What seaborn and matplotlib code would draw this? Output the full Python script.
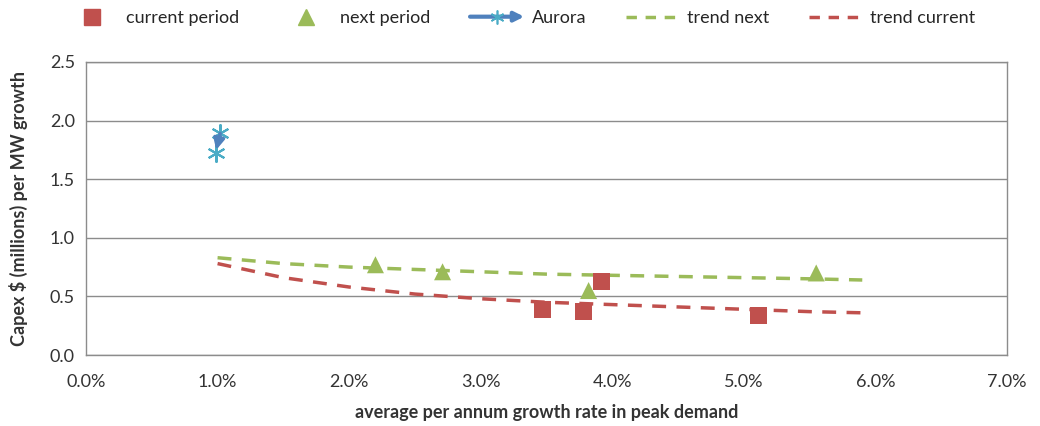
import seaborn as sns
import pandas as pd
import matplotlib.pyplot as plt
from matplotlib.lines import Line2D
from matplotlib.patches import FancyArrowPatch
from matplotlib.legend_handler import HandlerBase
import numpy as np

# data (x in % growth, y in $ millions per MW)
current_x = [3.47, 3.78, 3.92, 5.11]
current_y = [0.385, 0.37, 0.63, 0.34]
next_x = [2.20, 2.71, 3.82, 5.55]
next_y = [0.77, 0.71, 0.55, 0.70]
aurora_x = [1.02, 0.99]
aurora_y = [1.89, 1.72]
trend_x = [1.0, 1.5, 2.0, 2.5, 3.0, 3.5, 4.0, 4.5, 5.0, 5.5, 5.9]
trend_next = [0.83, 0.78, 0.75, 0.73, 0.71, 0.69, 0.68, 0.67, 0.66, 0.65, 0.64]
trend_current = [0.78, 0.66, 0.58, 0.52, 0.48, 0.45, 0.43, 0.41, 0.39, 0.37, 0.36]

red = '#C0504D'
green = '#9BBB59'
blue = '#4F81BD'
cyan = '#4BACC6'

sns.set_theme(style="white")
plt.rcParams['font.family'] = ['Lato', 'DejaVu Sans']

fig = plt.figure(figsize=(10.4, 4.26), dpi=100)
ax = fig.add_axes([86/1040, 1-355/426, (1007-86)/1040, (355-62)/426])

trends = pd.DataFrame({'x': trend_x, 'next': trend_next, 'current': trend_current})
sns.lineplot(data=trends, x='x', y='next', ax=ax, color=green, lw=2.5,
             linestyle=(0, (4, 3)), zorder=2)
sns.lineplot(data=trends, x='x', y='current', ax=ax, color=red, lw=2.5,
             linestyle=(0, (4, 3)), zorder=2)

sns.scatterplot(x=current_x, y=current_y, ax=ax, marker='s', s=150,
                color=red, edgecolor='none', zorder=3)
sns.scatterplot(x=next_x, y=next_y, ax=ax, marker='^', s=150,
                color=green, edgecolor='none', zorder=3)

# Aurora: arrow between the two points plus asterisk markers
ax.plot(aurora_x, aurora_y, ls='none', marker=(6, 2, 0), ms=13, mew=1.5,
        color=cyan, zorder=4)
ax.add_patch(FancyArrowPatch((aurora_x[0], aurora_y[0]), (aurora_x[1], aurora_y[1] + 0.03),
                             arrowstyle='-|>', color=blue, lw=2.5, mutation_scale=16,
                             shrinkA=0, shrinkB=0, zorder=5))


class ArrowHandler(HandlerBase):
    def create_artists(self, legend, orig, xd, yd, w, h, fontsize, trans):
        y = h / 2 - yd
        arr = FancyArrowPatch((-xd, y), (-xd + w, y), arrowstyle='-|>', color=blue,
                              lw=3, mutation_scale=14, shrinkA=0, shrinkB=0,
                              transform=trans)
        mk = Line2D([-xd + w / 2], [y], ls='none', marker=(6, 2, 0), ms=10,
                    mew=1.2, color=cyan, transform=trans)
        return [arr, mk]


ax.set_xlim(0, 7)
ax.set_ylim(0, 2.5)
ax.set_xticks(np.arange(0, 7.01, 1))
ax.set_xticklabels(['%.1f%%' % v for v in np.arange(0, 7.01, 1)])
ax.set_yticks(np.arange(0, 2.51, 0.5))
ax.set_yticklabels(['%.1f' % v for v in np.arange(0, 2.51, 0.5)])
ax.yaxis.grid(True, color='#8c8c8c', lw=1)
ax.set_axisbelow(True)
for s in ax.spines.values():
    s.set_color('#8c8c8c')
    s.set_linewidth(1)
ax.tick_params(axis='both', labelsize=13, colors='#333333', length=0, pad=8)
ax.tick_params(axis='x', pad=14)

ax.set_xlabel('average per annum growth rate in peak demand', fontsize=13,
              fontweight='bold', color='#333333', labelpad=10)
ax.set_ylabel('Capex $ (millions) per MW growth', fontsize=13,
              fontweight='bold', color='#333333', labelpad=16)

aurora_h = Line2D([], [], color=blue)
handles = [
    Line2D([], [], ls='none', marker='s', ms=11, color=red),
    Line2D([], [], ls='none', marker='^', ms=11, color=green),
    aurora_h,
    Line2D([], [], color=green, lw=2.5, ls=(0, (3, 2.5))),
    Line2D([], [], color=red, lw=2.5, ls=(0, (3, 2.5))),
]
labels = ['current period', 'next period', 'Aurora', 'trend next', 'trend current']
fig.legend(handles, labels, loc='center', bbox_to_anchor=(0.5, 1-18/426), ncol=5,
           frameon=False, fontsize=13, handlelength=3, columnspacing=2.2,
           handletextpad=0.4, handler_map={aurora_h: ArrowHandler()})

fig.savefig('out.png', dpi=100)
